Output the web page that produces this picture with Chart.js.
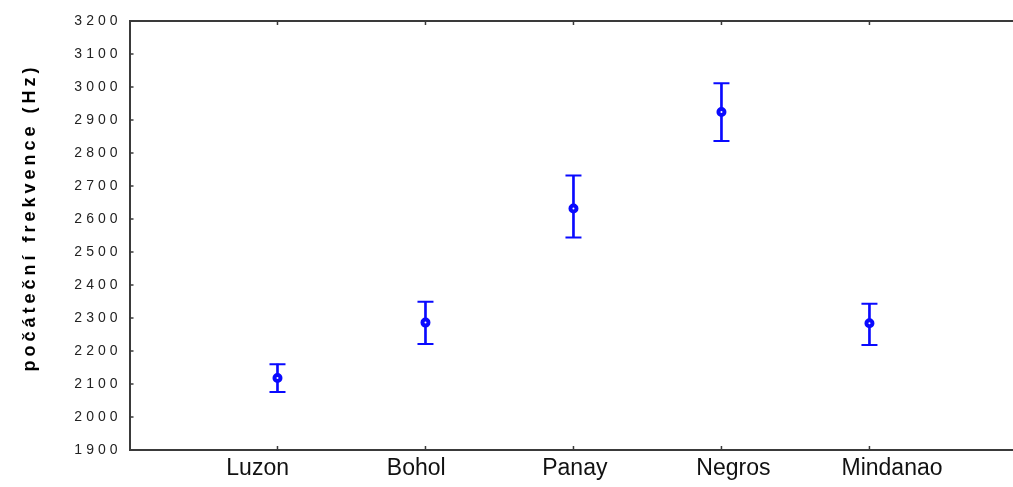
<!DOCTYPE html>
<html>
<head>
<meta charset="utf-8">
<script src="https://cdn.jsdelivr.net/npm/chart.js@4/dist/chart.umd.min.js"></script>
<style>
  html, body { margin: 0; padding: 0; background: #fff; }
  #wrap { width: 1013px; height: 487px; }
</style>
</head>
<body>
<div id="wrap"><canvas id="chart"></canvas></div>
<script>
const islands = ['Luzon', 'Bohol', 'Panay', 'Negros', 'Mindanao'];
const means = [2118, 2286, 2632, 2924, 2284];
const upper = [2160, 2349, 2732, 3011, 2343];
const lower = [2076, 2221, 2544, 2836, 2218];
const yTicks = [1900, 2000, 2100, 2200, 2300, 2400, 2500, 2600, 2700, 2800, 2900, 3000, 3100, 3200];

const BLUE = '#0a0aff';
const AXIS = '#3a3a3a';
const positions = islands.map((_, i) => i + 1);

// axis frame: top line + short inward tick marks
const frame = {
    id: 'frame',
    beforeDraw(chart) {
        chart.ctx.letterSpacing = '4px'; // y axis text is spaced out
    },
    beforeDatasetsDraw(chart) {
        chart.ctx.letterSpacing = '0px';
    },
    afterDraw(chart) {
        const { ctx, chartArea: a, scales } = chart;
        ctx.save();
        ctx.strokeStyle = AXIS;
        ctx.lineWidth = 2;
        ctx.beginPath();
        ctx.moveTo(a.left, a.top);
        ctx.lineTo(a.right, a.top);
        ctx.stroke();
        ctx.lineWidth = 1.5;
        ctx.beginPath();
        yTicks.forEach(v => {
            const y = scales.y.getPixelForValue(v);
            ctx.moveTo(a.left, y);
            ctx.lineTo(a.left + 4, y);
        });
        positions.forEach(v => {
            const x = scales.x.getPixelForValue(v);
            ctx.moveTo(x, a.bottom);
            ctx.lineTo(x, a.bottom - 4);
            ctx.moveTo(x, a.top);
            ctx.lineTo(x, a.top + 4);
        });
        ctx.stroke();
        ctx.restore();
    }
};

new Chart(document.getElementById('chart'), {
    type: 'bar',
    data: {
        datasets: [
            {
                type: 'line',
                data: means.map((m, i) => ({ x: positions[i], y: m })),
                showLine: false,
                pointStyle: 'circle',
                pointRadius: 3,
                borderWidth: 4,
                borderColor: BLUE,
                backgroundColor: '#fff',
                order: 0
            },
            {
                type: 'line',
                data: upper.map((v, i) => ({ x: positions[i], y: v }))
                    .concat(lower.map((v, i) => ({ x: positions[i], y: v }))),
                showLine: false,
                pointStyle: 'line',
                pointRadius: 8,
                borderWidth: 2,
                borderColor: BLUE,
                order: 1
            },
            {
                data: lower.map((v, i) => ({ x: positions[i], y: [v, upper[i]] })),
                backgroundColor: BLUE,
                borderWidth: 0,
                barThickness: 2,
                order: 2
            }
        ]
    },
    options: {
        responsive: true,
        maintainAspectRatio: false,
        animation: false,
        layout: { autoPadding: false, padding: { top: 21, right: 0, left: 0, bottom: 0 } },
        plugins: { legend: { display: false }, tooltip: { enabled: false } },
        scales: {
            x: {
                type: 'linear',
                offset: false,
                min: 0,
                max: 5.97,
                afterBuildTicks: s => { s.ticks = positions.map(v => ({ value: v })); },
                ticks: { display: false },
                grid: { display: true, drawOnChartArea: false, drawTicks: false },
                border: { display: true, color: AXIS, width: 2 }
            },
            x2: {
                type: 'linear',
                position: 'bottom',
                offset: false,
                weight: 1,
                min: 0.192,
                max: 5.763,
                afterBuildTicks: s => { s.ticks = positions.map(v => ({ value: v })); },
                ticks: {
                    z: 1,
                    callback: v => islands[v - 1],
                    color: '#111',
                    padding: 7,
                    maxRotation: 0,
                    font: { family: "'Liberation Sans', Arial, sans-serif", size: 23, lineHeight: 1 }
                },
                grid: { display: false, drawTicks: false },
                border: { display: false }
            },
            y: {
                min: 1900,
                max: 3200,
                afterBuildTicks: s => { s.ticks = yTicks.map(v => ({ value: v })); },
                afterFit: s => { s.width = 129.5; },
                ticks: {
                    callback: v => String(v),
                    color: '#222',
                    padding: 8,
                    font: { family: "'Liberation Sans', Arial, sans-serif", size: 14 }
                },
                grid: { display: true, drawOnChartArea: false, drawTicks: false },
                border: { display: true, color: AXIS, width: 2 },
                title: {
                    display: true,
                    text: '    počáteční frekvence (Hz)',
                    color: '#000',
                    padding: { top: 19, bottom: 0 },
                    font: { family: "'Liberation Sans', Arial, sans-serif", size: 18, weight: 'bold' }
                }
            }
        }
    },
    plugins: [frame]
});
</script>
</body>
</html>
